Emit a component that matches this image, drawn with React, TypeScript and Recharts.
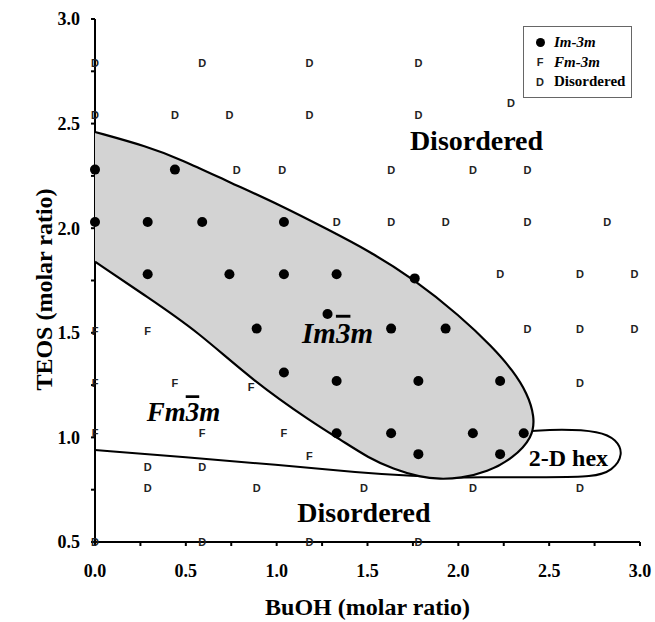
import React from "react";
import { ScatterChart, Scatter, XAxis, YAxis, Legend, Label } from "recharts";

// BuOH (x) and TEOS (y) molar ratios
const imPoints = [
  { x: 0, y: 2.28 }, { x: 0.44, y: 2.28 },
  { x: 0, y: 2.03 }, { x: 0.29, y: 2.03 }, { x: 0.59, y: 2.03 }, { x: 1.04, y: 2.03 },
  { x: 0.29, y: 1.78 }, { x: 0.74, y: 1.78 }, { x: 1.04, y: 1.78 }, { x: 1.33, y: 1.78 }, { x: 1.76, y: 1.76 },
  { x: 1.28, y: 1.59 },
  { x: 0.89, y: 1.52 }, { x: 1.63, y: 1.52 }, { x: 1.93, y: 1.52 },
  { x: 1.04, y: 1.31 }, { x: 1.33, y: 1.27 }, { x: 1.78, y: 1.27 }, { x: 2.23, y: 1.27 },
  { x: 1.33, y: 1.02 }, { x: 1.63, y: 1.02 }, { x: 2.08, y: 1.02 }, { x: 2.36, y: 1.02 },
  { x: 1.78, y: 0.92 }, { x: 2.23, y: 0.92 },
];

const fmPoints = [
  { x: 0, y: 1.51 }, { x: 0.29, y: 1.51 },
  { x: 0, y: 1.26 }, { x: 0.44, y: 1.26 }, { x: 0.86, y: 1.24 },
  { x: 0, y: 1.02 }, { x: 0.59, y: 1.02 }, { x: 1.04, y: 1.02 },
  { x: 1.18, y: 0.91 },
];

const disorderedPoints = [
  { x: 0, y: 2.79 }, { x: 0.59, y: 2.79 }, { x: 1.18, y: 2.79 }, { x: 1.78, y: 2.79 },
  { x: 2.29, y: 2.6 },
  { x: 0, y: 2.54 }, { x: 0.44, y: 2.54 }, { x: 0.74, y: 2.54 }, { x: 1.18, y: 2.54 }, { x: 1.78, y: 2.54 },
  { x: 0.78, y: 2.28 }, { x: 1.03, y: 2.28 }, { x: 1.63, y: 2.28 }, { x: 2.08, y: 2.28 }, { x: 2.38, y: 2.28 },
  { x: 1.33, y: 2.03 }, { x: 1.63, y: 2.03 }, { x: 1.93, y: 2.03 }, { x: 2.38, y: 2.03 }, { x: 2.82, y: 2.03 },
  { x: 2.23, y: 1.78 }, { x: 2.67, y: 1.78 }, { x: 2.97, y: 1.78 },
  { x: 2.38, y: 1.52 }, { x: 2.67, y: 1.52 }, { x: 2.97, y: 1.52 },
  { x: 2.67, y: 1.26 },
  { x: 0.29, y: 0.86 }, { x: 0.59, y: 0.86 },
  { x: 0.29, y: 0.76 }, { x: 0.89, y: 0.76 }, { x: 1.48, y: 0.76 }, { x: 2.08, y: 0.76 }, { x: 2.67, y: 0.76 },
  { x: 0, y: 0.5 }, { x: 0.59, y: 0.5 }, { x: 1.18, y: 0.5 }, { x: 1.78, y: 0.5 },
];

// outline of the Im-3m field, clockwise from the y axis
const imBoundary = [
  { x: 0, y: 2.46 }, { x: 0.29, y: 2.39 }, { x: 0.47, y: 2.33 }, { x: 0.74, y: 2.22 },
  { x: 1.02, y: 2.11 }, { x: 1.29, y: 1.99 }, { x: 1.51, y: 1.89 }, { x: 1.75, y: 1.76 },
  { x: 2.01, y: 1.58 }, { x: 2.19, y: 1.43 }, { x: 2.3, y: 1.32 }, { x: 2.38, y: 1.21 },
  { x: 2.42, y: 1.1 }, { x: 2.41, y: 1.0 }, { x: 2.3, y: 0.9 }, { x: 2.16, y: 0.835 },
  { x: 2.01, y: 0.805 }, { x: 1.9, y: 0.8 }, { x: 1.79, y: 0.81 }, { x: 1.64, y: 0.85 },
  { x: 1.51, y: 0.9 }, { x: 1.35, y: 0.99 }, { x: 1.2, y: 1.07 }, { x: 0.87, y: 1.27 },
  { x: 0.56, y: 1.51 }, { x: 0.29, y: 1.67 }, { x: 0, y: 1.84 },
];

// Fm-3m / disordered border running into the 2-D hex loop
const lowerBoundary = [
  { x: 0, y: 0.94 }, { x: 0.5, y: 0.905 }, { x: 1.0, y: 0.87 }, { x: 1.46, y: 0.83 },
  { x: 1.75, y: 0.815 }, { x: 2.0, y: 0.807 }, { x: 2.16, y: 0.81 }, { x: 2.5, y: 0.81 },
  { x: 2.74, y: 0.81 }, { x: 2.85, y: 0.84 }, { x: 2.91, y: 0.92 }, { x: 2.87, y: 0.99 },
  { x: 2.78, y: 1.03 }, { x: 2.56, y: 1.04 }, { x: 2.4, y: 1.03 },
];

const regionLabels = [
  { x: 2.1, y: 2.42, name: "Disordered" },
  { x: 1.48, y: 0.64, name: "Disordered" },
  { x: 1.335, y: 1.5, name: "Im3m" },
  { x: 0.487, y: 1.12, name: "Fm3m" },
  { x: 2.606, y: 0.9, name: "2-D hex" },
];

const xTicks = [0, 0.25, 0.5, 0.75, 1, 1.25, 1.5, 1.75, 2, 2.25, 2.5, 2.75, 3];
const yTicks = [0.5, 0.75, 1, 1.25, 1.5, 1.75, 2, 2.25, 2.5, 2.75, 3];

const legendItems = [
  { mark: "dot", label: "Im-3m" },
  { mark: "F", label: "Fm-3m" },
  { mark: "D", label: "Disordered" },
];

const SERIF = "'Liberation Serif', 'Times New Roman', serif";
const SANS = "'Liberation Sans', Arial, sans-serif";

const fmtTick = (v: number) => (Math.round(v * 100) % 50 === 0 ? v.toFixed(1) : "");

const tickStyle = { fill: "#000", fontSize: 18, fontWeight: "bold", fontFamily: SERIF };
const axisStroke = { stroke: "#000", strokeWidth: 2 };

const hidden = () => <g />;

const dot = (p: any) => <circle cx={p.cx} cy={p.cy} r={5} fill="#000" />;

const letter = (ch: string) => (p: any) => (
  <text
    x={p.cx}
    y={p.cy}
    textAnchor="middle"
    dominantBaseline="central"
    fontFamily={SANS}
    fontWeight="bold"
    fontSize={11}
    fill="#222"
  >
    {ch}
  </text>
);

const labelSizes: Record<string, number> = {
  Disordered: 28,
  Im3m: 29,
  Fm3m: 27,
  "2-D hex": 24,
};

const regionLabel = (p: any) => {
  const name = p.payload.name;
  const common = {
    x: p.cx,
    y: p.cy,
    textAnchor: "middle" as const,
    dominantBaseline: "central" as const,
    fontFamily: SERIF,
    fontWeight: "bold",
    fontSize: labelSizes[name],
    fill: "#000",
  };
  if (name === "Im3m" || name === "Fm3m") {
    return (
      <text {...common} fontStyle="italic">
        {name.slice(0, 2)}
        <tspan style={{ textDecoration: "overline" }}>3</tspan>m
      </text>
    );
  }
  return <text {...common}>{name}</text>;
};

const LegendBox = () => (
  <div
    style={{
      width: 109,
      height: 72,
      boxSizing: "border-box",
      border: "1px solid #666",
      background: "#fff",
      paddingTop: 6,
    }}
  >
    {legendItems.map((item) => (
      <div key={item.label} style={{ display: "flex", alignItems: "center", height: 19.5 }}>
        <span style={{ width: 28, display: "flex", justifyContent: "center", paddingLeft: 2 }}>
          {item.mark === "dot" ? (
            <span style={{ width: 9, height: 9, borderRadius: "50%", background: "#000", display: "inline-block" }} />
          ) : (
            <span style={{ fontFamily: SANS, fontWeight: "bold", fontSize: 11, color: "#222" }}>{item.mark}</span>
          )}
        </span>
        <span
          style={{
            fontFamily: SERIF,
            fontWeight: "bold",
            fontSize: 15,
            fontStyle: item.mark === "D" ? "normal" : "italic",
            whiteSpace: "nowrap",
          }}
        >
          {item.label}
        </span>
      </div>
    ))}
  </div>
);

const yTitle = (props: any) => {
  const vb = props.viewBox;
  const cx = vb.x + 9;
  const cy = vb.y + vb.height / 2 + 9;
  return (
    <text
      x={cx}
      y={cy}
      transform={`rotate(-90, ${cx}, ${cy})`}
      textAnchor="middle"
      dominantBaseline="central"
      fontFamily={SERIF}
      fontWeight="bold"
      fontSize={24}
      fill="#000"
    >
      TEOS (molar ratio)
    </text>
  );
};

const xTitle = (props: any) => {
  const vb = props.viewBox;
  return (
    <text
      x={vb.x + vb.width / 2}
      y={vb.y + vb.height - 7}
      textAnchor="middle"
      fontFamily={SERIF}
      fontWeight="bold"
      fontSize={24}
      fill="#000"
    >
      BuOH (molar ratio)
    </text>
  );
};

export default function App() {
  return (
    <div style={{ position: "absolute", left: 0, top: 0, width: 655, height: 622, background: "#fff" }}>
      <ScatterChart width={655} height={622} margin={{ top: 19, right: 15, left: 35, bottom: 0 }}>
        <XAxis
          type="number"
          dataKey="x"
          domain={[0, 3]}
          ticks={xTicks}
          interval={0}
          tickFormatter={fmtTick}
          tick={tickStyle}
          tickSize={4}
          tickMargin={18}
          axisLine={axisStroke}
          tickLine={axisStroke}
          height={80}
        >
          <Label content={xTitle} />
        </XAxis>
        <YAxis
          type="number"
          dataKey="y"
          domain={[0.5, 3]}
          ticks={yTicks}
          interval={0}
          tickFormatter={fmtTick}
          tick={tickStyle}
          tickSize={4}
          tickMargin={11}
          axisLine={axisStroke}
          tickLine={axisStroke}
          width={60}
        >
          <Label content={yTitle} />
        </YAxis>
        <XAxis xAxisId="top" orientation="top" type="number" domain={[0, 3]} height={0} tick={false} tickLine={false} axisLine={axisStroke} />
        <YAxis yAxisId="right" orientation="right" type="number" domain={[0.5, 3]} width={0} tick={false} tickLine={false} axisLine={axisStroke} />

        <Scatter
          data={lowerBoundary}
          shape={hidden}
          line={{ stroke: "#000", strokeWidth: 2 }}
          lineJointType="basis"
          isAnimationActive={false}
        />
        <Scatter
          data={imBoundary}
          shape={hidden}
          line={{ stroke: "#000", strokeWidth: 2.2, fill: "#d3d3d3" }}
          lineJointType="basis"
          isAnimationActive={false}
        />
        <Scatter data={imPoints} shape={dot} isAnimationActive={false} />
        <Scatter data={fmPoints} shape={letter("F")} isAnimationActive={false} />
        <Scatter data={disorderedPoints} shape={letter("D")} isAnimationActive={false} />
        <Scatter data={regionLabels} shape={regionLabel} isAnimationActive={false} />

        <Legend
          layout="horizontal"
          verticalAlign="middle"
          align="center"
          content={() => <LegendBox />}
          wrapperStyle={{ top: 26, left: 523, width: 109, height: 72 }}
        />
      </ScatterChart>
    </div>
  );
}
